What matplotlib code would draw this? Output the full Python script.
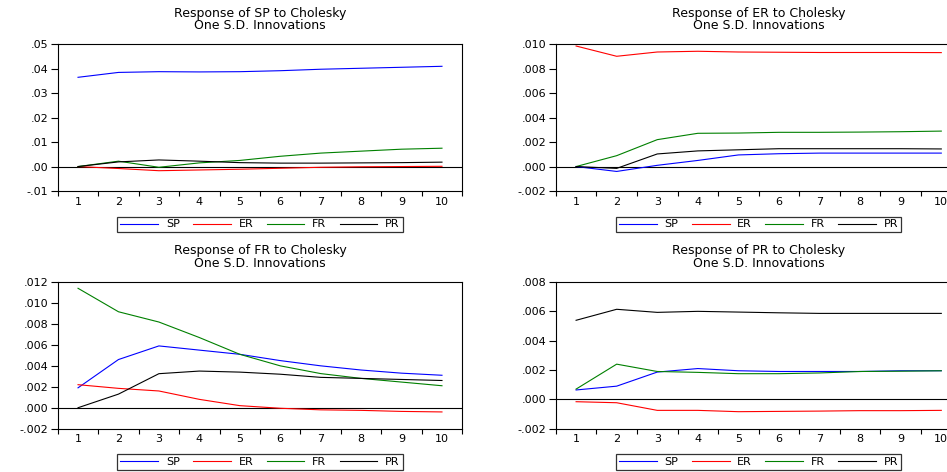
import matplotlib
matplotlib.use("Agg")
import matplotlib.pyplot as plt
from matplotlib.ticker import FixedLocator, FuncFormatter

plt.rcParams['font.family'] = ['DejaVu Sans']

periods = [1, 2, 3, 4, 5, 6, 7, 8, 9, 10]
series_names = ["SP", "ER", "FR", "PR"]
colors = ["#0000ff", "#ff0000", "#008000", "#000000"]

# Response of SP
sp_resp_sp = [0.0365, 0.0385, 0.0388, 0.0387, 0.0388, 0.0392, 0.0398, 0.0402, 0.0406, 0.0410]
sp_resp_er = [0.0, -0.0008, -0.0017, -0.0014, -0.0011, -0.0007, -0.0003, -0.0001, 0.0, 0.0001]
sp_resp_fr = [0.0, 0.0022, -0.0003, 0.0015, 0.0025, 0.0042, 0.0055, 0.0063, 0.0071, 0.0075]
sp_resp_pr = [0.0, 0.0019, 0.0027, 0.0022, 0.0016, 0.0014, 0.0014, 0.0015, 0.0016, 0.0018]

# Response of ER
er_resp_sp = [0.0, -0.0004, 0.0001, 0.0005, 0.00095, 0.00105, 0.0011, 0.0011, 0.0011, 0.0011]
er_resp_er = [0.00986, 0.00902, 0.00937, 0.00943, 0.00937, 0.00935, 0.00933, 0.00933, 0.00933, 0.00932]
er_resp_fr = [0.0, 0.00089, 0.0022, 0.00272, 0.00274, 0.0028, 0.0028, 0.00282, 0.00285, 0.0029]
er_resp_pr = [0.0, -0.00015, 0.00103, 0.00128, 0.00137, 0.00146, 0.00146, 0.00146, 0.00146, 0.00144]

# Response of FR
fr_resp_sp = [0.0019, 0.0046, 0.0059, 0.0055, 0.0051, 0.0045, 0.0040, 0.0036, 0.0033, 0.0031]
fr_resp_er = [0.0022, 0.00185, 0.0016, 0.0008, 0.0002, -0.00005, -0.0002, -0.00025, -0.00035, -0.0004]
fr_resp_fr = [0.0114, 0.00916, 0.00818, 0.0067, 0.0051, 0.0040, 0.00326, 0.0028, 0.00245, 0.0021]
fr_resp_pr = [0.0, 0.0013, 0.00325, 0.0035, 0.0034, 0.0032, 0.0029, 0.0028, 0.0027, 0.0026]

# Response of PR
pr_resp_sp = [0.00064, 0.0009, 0.00186, 0.0021, 0.00195, 0.0019, 0.0019, 0.0019, 0.00195, 0.00195]
pr_resp_er = [-0.00016, -0.00023, -0.00075, -0.00075, -0.00084, -0.00082, -0.0008, -0.00077, -0.00077, -0.00075]
pr_resp_fr = [0.0007, 0.0024, 0.0019, 0.00184, 0.00175, 0.00175, 0.0018, 0.0019, 0.00192, 0.00195]
pr_resp_pr = [0.00539, 0.00614, 0.00593, 0.0060, 0.00595, 0.0059, 0.00586, 0.00586, 0.00586, 0.00586]

panels = [
    ("SP", [sp_resp_sp, sp_resp_er, sp_resp_fr, sp_resp_pr], (-0.01, 0.05), [-0.01, 0.0, 0.01, 0.02, 0.03, 0.04, 0.05], 2),
    ("ER", [er_resp_sp, er_resp_er, er_resp_fr, er_resp_pr], (-0.002, 0.010), [-0.002, 0.0, 0.002, 0.004, 0.006, 0.008, 0.010], 3),
    ("FR", [fr_resp_sp, fr_resp_er, fr_resp_fr, fr_resp_pr], (-0.002, 0.012), [-0.002, 0.0, 0.002, 0.004, 0.006, 0.008, 0.010, 0.012], 3),
    ("PR", [pr_resp_sp, pr_resp_er, pr_resp_fr, pr_resp_pr], (-0.002, 0.008), [-0.002, 0.0, 0.002, 0.004, 0.006, 0.008], 3),
]

W, H = 947, 472
fig = plt.figure(figsize=(W / 100, H / 100), dpi=100)

# axes rectangles in pixels: left, top, right, bottom
rects = [
    (57.8, 44.3, 462.2, 191.0),
    (555.8, 44.3, 961.6, 191.0),
    (57.8, 282.0, 462.2, 428.7),
    (555.8, 282.0, 961.6, 428.7),
]

def make_fmt(dec):
    def f(v, pos):
        s = f"{v:.{dec}f}"
        if s.startswith("-0"):
            s = "-" + s[2:]
        elif s.startswith("0"):
            s = s[1:]
        return s
    return f

for (name, data, ylim, yticks, dec), (l, t, r, b) in zip(panels, rects):
    ax = fig.add_axes([l / W, 1 - b / H, (r - l) / W, (b - t) / H])
    for vals, sname, c in zip(data, series_names, colors):
        ax.plot(periods, vals, color=c, lw=0.8, label=sname)
    ax.axhline(0, color="black", lw=0.8, zorder=1)
    ax.set_xlim(0.5, 10.5)
    ax.set_ylim(*ylim)
    ax.xaxis.set_major_locator(FixedLocator(periods))
    ax.xaxis.set_minor_locator(FixedLocator([p + 0.5 for p in [0] + periods]))
    ax.tick_params(axis="x", which="major", length=0, pad=4, labelsize=8)
    ax.tick_params(axis="x", which="minor", length=3.5, width=0.8, direction="out")
    ax.yaxis.set_major_locator(FixedLocator(yticks))
    ax.yaxis.set_major_formatter(FuncFormatter(make_fmt(dec)))
    ax.tick_params(axis="y", which="major", length=5, width=0.8, direction="out", pad=2, labelsize=8)
    for sp in ax.spines.values():
        sp.set_linewidth(0.8)
    ax.set_title(f"Response of {name} to Cholesky\nOne S.D. Innovations", fontsize=9, pad=11, linespacing=0.95)
    leg = ax.legend(loc="center", bbox_to_anchor=(0.5, -0.228), ncol=4, fontsize=8,
                    frameon=True, fancybox=False, edgecolor="black", handlelength=3.4,
                    handletextpad=0.7, columnspacing=1.2, borderpad=0.25, labelspacing=0.2,
                    borderaxespad=0)
    leg.get_frame().set_linewidth(0.9)

fig.savefig("out.png", dpi=100)
